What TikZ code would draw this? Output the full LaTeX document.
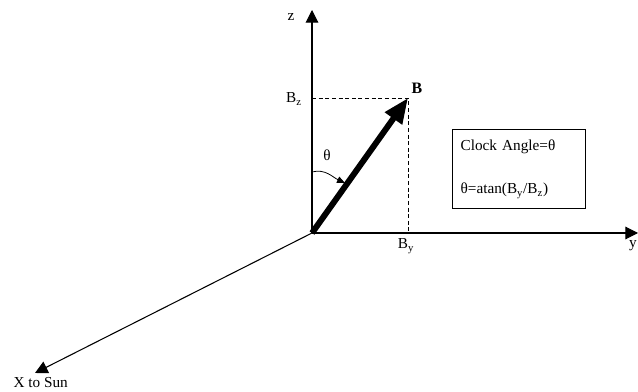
\documentclass[tikz,border=0pt]{standalone}
\usepackage{fontspec}
\setmainfont{Liberation Serif}
\usetikzlibrary{arrows.meta, positioning}
\tikzset{
  axis/.style={-{Triangle[length=9.5pt,width=9.5pt]}, line width=0.8pt, color=black},
  vec/.style={-{Triangle[length=19pt,width=15pt]}, line width=4.5pt, color=black},
  proj/.style={line width=0.6pt, dash pattern=on 3pt off 2pt},
  lbl/.style={font=\fontsize{11.5}{13}\selectfont, inner sep=1pt},
  infobox/.style={rectangle, draw, line width=0.8pt, text width=88pt,
    inner xsep=6pt, minimum height=60pt, align=left,
    font=\fontsize{11.5}{13}\selectfont}
}

\begin{document}
\begin{tikzpicture}[x=0.0265cm, y=0.0265cm]
  \useasboundingbox (0,0) rectangle (638,391);

  % Axes
  \coordinate (O) at (312,158);
  \coordinate (ztip) at (312,381);
  \coordinate (ytip) at (638,158);
  \coordinate (xtip) at (35,18);
  \draw[axis] (O) -- (ztip);
  \draw[axis] (O) -- (ytip);
  \draw[axis] (O) -- (xtip);
  \node[lbl] (zl) at (291,374) {z};
  \node[lbl] (yl) at (633,145) {y};
  \node[lbl, anchor=west] (xl) at (12,8) {X to Sun};

  % Field vector and projections
  \coordinate (B) at (408,293);
  \coordinate (Bzp) at (312,293);
  \coordinate (Byp) at (408,158);
  \draw[proj] (Bzp) -- (B) -- (Byp);
  \draw[vec] (O) -- (B);
  \node[lbl, font=\fontsize{12}{13}\selectfont\bfseries] (Bl) at (417,303) {B};
  \node[lbl] (Bzl) at (294,292) {B\textsubscript{z}};
  \node[lbl] (Byl) at (406,145) {B\textsubscript{y}};

  % Clock angle
  \coordinate (ta) at (312,219);
  \coordinate (tb) at (345,208);
  \draw[-{Triangle[length=6pt,width=5pt]}, line width=0.6pt] (ta) to[out=15, in=155] (tb);
  \node[lbl] (thl) at (327,236) {θ};

  \node[infobox] (info) at (519,222)
    {Clock Angle=θ\\[20pt] θ=atan(B\textsubscript{y}/B\textsubscript{z})};
\end{tikzpicture}
\end{document}
